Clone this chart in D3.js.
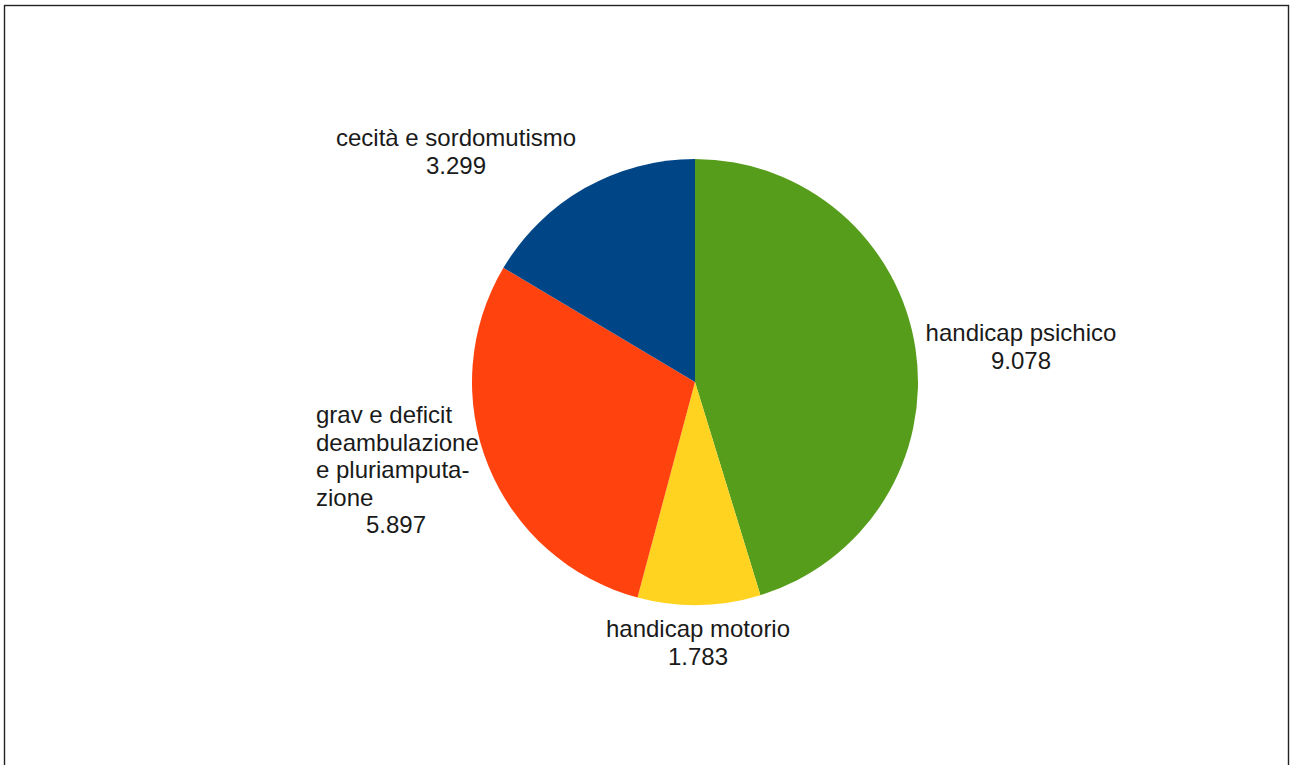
<!DOCTYPE html>
<html>
<head>
<meta charset="utf-8">
<script src="https://cdn.jsdelivr.net/npm/d3@7"></script>
<style>
  body { margin: 0; background: #fff; }
  svg { display: block; }
</style>
</head>
<body>
<svg></svg>
<script>
let categories = ['handicap psichico', 'handicap motorio', 'grave deficit deambulazione e pluriamputazione', 'cecità e sordomutismo']
let values = [9.078, 1.783, 5.897, 3.299]
let valueLabels = ['9.078', '1.783', '5.897', '3.299']
let colors = ['#579d1c', '#ffd320', '#ff420e', '#004586']

let width = 1290
let height = 765
let cx = 695
let cy = 382
let radius = 223

let svg = d3.select('svg')
  .attr('width', width)
  .attr('height', height)

// frame
svg.append('rect')
  .attr('x', 4.5)
  .attr('y', 5.5)
  .attr('width', 1284)
  .attr('height', 800)
  .attr('fill', 'none')
  .attr('stroke', '#222')
  .attr('stroke-width', 1.4)

let pie = d3.pie().sort(null).value((d) => d)
let arc = d3.arc().innerRadius(0).outerRadius(radius)
let arcs = pie(values)

let g = svg.append('g')
  .attr('transform', 'translate(' + cx + ',' + cy + ')')

g.selectAll('path')
  .data(arcs)
  .enter()
  .append('path')
  .attr('d', arc)
  .attr('fill', (d, i) => colors[i])

// labels: lines of text, anchor, x, first baseline
let labelSpecs = [
  { lines: ['handicap psichico', valueLabels[0]], anchor: 'middle', x: 1021, y: 341, valX: 1021 },
  { lines: ['handicap motorio', valueLabels[1]], anchor: 'middle', x: 698, y: 637, valX: 698 },
  { lines: ['grav e deficit', 'deambulazione', 'e pluriamputa-', 'zione', valueLabels[2]], anchor: 'start', x: 316, y: 423, valX: 396 },
  { lines: ['cecità e sordomutismo', valueLabels[3]], anchor: 'middle', x: 456, y: 146, valX: 456 }
]

let lineHeight = 27.5

labelSpecs.forEach((spec) => {
  spec.lines.forEach((line, j) => {
    let isValue = j === spec.lines.length - 1
    svg.append('text')
      .attr('x', isValue ? spec.valX : spec.x)
      .attr('y', spec.y + j * lineHeight)
      .attr('text-anchor', isValue ? 'middle' : spec.anchor)
      .attr('font-family', 'Liberation Sans, Arial, sans-serif')
      .attr('font-size', '24px')
      .attr('fill', '#1a1a1a')
      .text(line)
  })
})
</script>
</body>
</html>
